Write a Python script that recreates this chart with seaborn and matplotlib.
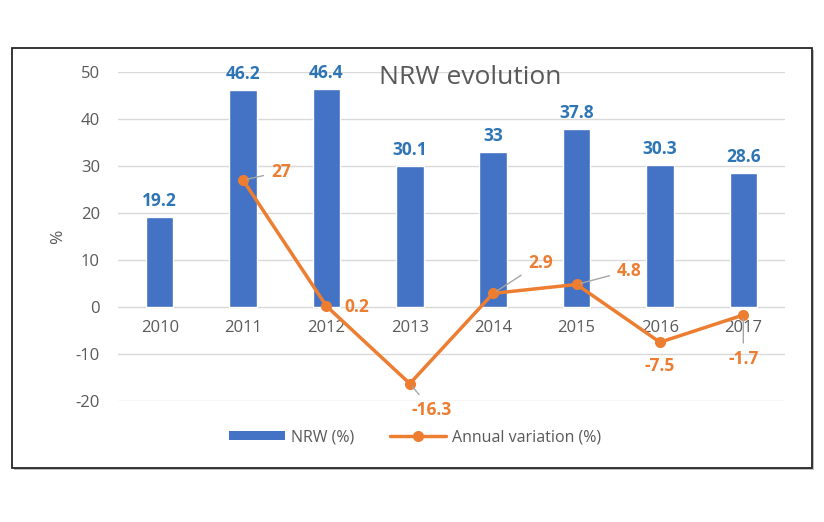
import numpy as np
import pandas as pd
import seaborn as sns
import matplotlib.pyplot as plt
from matplotlib.patches import Rectangle
from matplotlib.lines import Line2D
from matplotlib.patches import Patch

# Data
years = ['2010', '2011', '2012', '2013', '2014', '2015', '2016', '2017']
nrw = [19.2, 46.2, 46.4, 30.1, 33, 37.8, 30.3, 28.6]
variation = [np.nan, 27, 0.2, -16.3, 2.9, 4.8, -7.5, -1.7]
yticks = [-20, -10, 0, 10, 20, 30, 40, 50]

bar_color = '#4472C4'
line_color = '#ED7D31'
text_gray = '#595959'

sns.set_theme(style='white')
plt.rcParams['font.family'] = ['Open Sans', 'DejaVu Sans']
plt.rcParams['axes.unicode_minus'] = False

df = pd.DataFrame({'year': years, 'nrw': nrw, 'variation': variation})
df['pos'] = range(len(years))

fig = plt.figure(figsize=(8.24, 5.22), dpi=100)

# outer chart frame with a little shadow
fig.patches.append(Rectangle((14 / 824, 1 - 470 / 522), 800 / 824, 420 / 522,
                             transform=fig.transFigure, facecolor='#BFBFBF',
                             edgecolor='none', zorder=-3))
fig.patches.append(Rectangle((12 / 824, 1 - 468 / 522), 800 / 824, 420 / 522,
                             transform=fig.transFigure, facecolor='white',
                             edgecolor='#262626', linewidth=1.3, zorder=-2))

ax = fig.add_axes([118 / 824, 1 - 401 / 522, 667 / 824, 329 / 522])
ax.set_facecolor('none')

sns.barplot(data=df, x='year', y='nrw', color=bar_color, width=0.33,
            saturation=1, ax=ax, zorder=2)
sns.lineplot(data=df, x='pos', y='variation', color=line_color, linewidth=2.5,
             marker='o', markersize=8, markeredgewidth=0, ax=ax, zorder=3)

ax.set_xlim(-0.5, 7.5)
ax.set_ylim(-20, 50)
ax.set_yticks(yticks)
ax.set_xticks(range(len(years)))
ax.set_xticklabels(years)
ax.yaxis.grid(True, color='#D9D9D9', linewidth=1)
ax.set_axisbelow(True)
for s in ['top', 'right', 'left']:
    ax.spines[s].set_visible(False)
ax.spines['bottom'].set_position(('data', 0))
ax.spines['bottom'].set_visible(False)
ax.tick_params(axis='x', length=0, pad=9, labelsize=12, labelcolor=text_gray)
ax.tick_params(axis='y', length=0, pad=13, labelsize=12, labelcolor=text_gray)
ax.set_xlabel('')
ax.set_ylabel('%', fontsize=12.5, color=text_gray, labelpad=7)

# bar value labels
for i, v in enumerate(nrw):
    ax.annotate(f'{v:g}', (i, v), xytext=(0, 5), textcoords='offset points',
                ha='center', va='bottom', fontsize=12.5, fontweight='bold',
                color='#2E75B6', zorder=5)

# line value labels (offset in points, whether a leader line is drawn)
label_layout = [None, (20, 6, 'left', True), (13, -1, 'left', False),
                (16, -19, 'center', True), (25, 22, 'left', True),
                (29, 10, 'left', True), (0, -17, 'center', False),
                (0, -32, 'center', True)]
for i, v in enumerate(variation):
    if label_layout[i] is None:
        continue
    dx, dy, ha, leader = label_layout[i]
    props = None
    if leader:
        props = dict(arrowstyle='-', color='#A6A6A6', linewidth=1,
                     shrinkA=3, shrinkB=3)
    ax.annotate(f'{v:g}', (i, v), xytext=(dx, dy), textcoords='offset points',
                ha=ha, va='center', fontsize=12.5, fontweight='bold',
                color=line_color, arrowprops=props, zorder=5)

ax.text(0.528, 0.982, 'NRW evolution', transform=ax.transAxes, ha='center',
        va='center', fontsize=19, color=text_gray)

handles = [Patch(facecolor=bar_color, edgecolor='none'),
           Line2D([0], [0], color=line_color, linewidth=2.5, marker='o',
                  markersize=8, markeredgewidth=0)]
fig.legend(handles, ['NRW (%)', 'Annual variation (%)'], loc='center',
           bbox_to_anchor=(415 / 824, 1 - 437 / 522), ncol=2, frameon=False,
           fontsize=11.5, handlelength=3.5, handleheight=0.5,
           columnspacing=2.2, handletextpad=0.4, labelcolor=text_gray)

fig.savefig('out.png', dpi=100)
